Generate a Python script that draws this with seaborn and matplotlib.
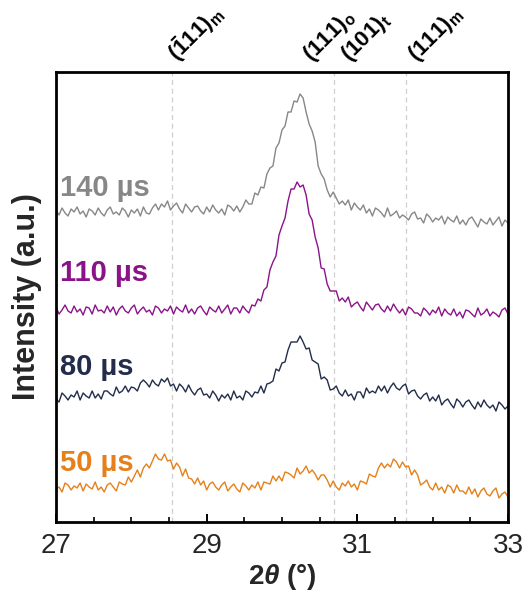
import numpy as np
import pandas as pd
import matplotlib
matplotlib.use("Agg")
import matplotlib.pyplot as plt
from matplotlib.ticker import MultipleLocator
import seaborn as sns

# Scan grid: 27-33 deg, 0.04 deg step
two_theta = np.linspace(27.0, 33.0, 151)

# Raw intensities (a.u.) per pulse width
i_50us = [38, 40, 35, 44, 42, 37, 41, 39, 44, 36, 43, 40, 38, 45, 37, 40, 35, 42, 44, 40,
          36, 45, 43, 42, 50, 45, 51, 57, 50, 59,
          63, 59, 66, 73, 68, 67, 73, 66, 67, 58, 64, 60, 51, 58, 49, 48, 43, 49, 42, 46,
          37, 43, 45, 40, 37, 42, 45, 36, 40, 43,
          38, 35, 44, 41, 37, 42, 39, 45, 37, 45, 44, 43, 51, 46, 51, 46, 55, 54, 52, 49,
          59, 53, 56, 61, 54, 57, 53, 47, 52, 52,
          47, 40, 46, 40, 37, 44, 41, 46, 40, 43, 37, 46, 45, 43, 53, 51, 50, 59, 64, 59,
          63, 60, 68, 65, 59, 65, 60, 61, 52, 57,
          52, 42, 44, 47, 40, 37, 44, 37, 40, 34, 42, 40, 34, 42, 36, 36, 33, 40, 33, 38,
          30, 36, 39, 33, 31, 36, 39, 29, 33, 35, 30]

i_80us = [38, 35, 44, 41, 37, 42, 40, 46, 37, 44, 41, 39, 46, 39, 43, 38, 46, 46, 43, 41,
          50, 44, 46, 51, 45, 50, 49, 46, 54, 57,
          54, 50, 57, 53, 51, 58, 55, 59, 51, 53, 46, 53, 50, 45, 52, 46, 42, 47, 49, 42,
          43, 39, 46, 42, 36, 42, 39, 43, 37, 46,
          39, 41, 37, 46, 44, 40, 45, 44, 51, 44, 53, 54, 56, 68, 66, 74, 75, 87, 95, 95,
          95, 101, 95, 88, 89, 77, 75, 73, 58, 60,
          57, 47, 48, 51, 44, 41, 47, 41, 43, 37, 45, 45, 39, 49, 44, 46, 44, 51, 46, 51,
          44, 50, 54, 49, 47, 51, 53, 43, 46, 47,
          41, 38, 42, 44, 36, 40, 36, 42, 32, 36, 38, 33, 29, 38, 35, 30, 35, 37, 32, 28,
          35, 30, 37, 32, 29, 32, 26, 35, 32, 28, 31]

i_110us = [43, 36, 40, 45, 39, 37, 44, 38, 41, 35, 43, 42, 36, 45, 39, 40, 37, 44, 38, 43,
           35, 41, 44, 39, 37, 42, 45, 36, 40, 43,
           38, 40, 35, 44, 42, 37, 41, 39, 44, 36, 43, 40, 38, 45, 37, 41, 36, 42, 44, 39,
           35, 43, 40, 38, 44, 37, 41, 45, 36, 42,
           42, 37, 44, 40, 37, 45, 44, 51, 49, 60, 63, 80, 88, 94, 115, 124, 132, 149, 161, 161,
           168, 163, 165, 155, 136, 130, 113, 102, 82, 81,
           66, 59, 59, 59, 49, 52, 48, 53, 43, 46, 48, 43, 39, 48, 44, 40, 45, 46, 41, 38,
           44, 39, 46, 41, 37, 41, 35, 43, 41, 37,
           37, 34, 42, 39, 35, 40, 37, 43, 34, 41, 37, 35, 41, 34, 38, 32, 40, 39, 36, 33,
           42, 35, 37, 41, 34, 38, 36, 33, 40, 42, 36]

i_140us = [42, 37, 44, 39, 36, 43, 40, 45, 38, 41, 35, 43, 41, 37, 44, 39, 36, 42, 45, 38,
           40, 37, 44, 41, 35, 42, 39, 43, 36, 45,
           39, 38, 44, 48, 42, 48, 45, 51, 42, 46, 49, 43, 39, 48, 44, 40, 45, 46, 41, 38,
           45, 40, 47, 42, 39, 43, 37, 47, 45, 41,
           46, 40, 45, 52, 48, 48, 59, 57, 65, 64, 78, 84, 86, 104, 109, 122, 126, 140, 140, 151,
           150, 158, 154, 140, 128, 121, 110, 86, 78, 73,
           62, 55, 60, 54, 48, 51, 47, 52, 42, 49, 45, 42, 47, 39, 43, 36, 44, 42, 39, 35,
           44, 36, 38, 41, 34, 37, 35, 32, 38, 40,
           33, 34, 29, 38, 35, 30, 34, 32, 36, 28, 35, 32, 30, 36, 28, 32, 27, 33, 35, 30,
           25, 33, 30, 28, 34, 27, 31, 35, 26, 32, 29]

samples = ["50 µs", "80 µs", "110 µs", "140 µs"]
offsets = [0, 90, 177, 275]
colors = ["#e5801a", "#232d4b", "#8b1389", "#878787"]
label_y = [64, 160, 254, 339]

# Reflection positions (2theta, deg) and their labels
ref_pos = [28.54, 30.69, 31.65]
ref_labels = [r"($\bar{1}$11)$_\mathrm{m}$", r"(111)$_\mathrm{o}$",
              r"(101)$_\mathrm{t}$", r"(111)$_\mathrm{m}$"]
ref_label_x = [28.67, 30.45, 30.95, 31.85]

xticks = [27, 29, 31, 33]

rows = []
for name, vals, off in zip(samples, [i_50us, i_80us, i_110us, i_140us], offsets):
    rows.append(pd.DataFrame({"two_theta": two_theta,
                              "intensity": np.asarray(vals, float) + off,
                              "sample": name}))
df = pd.concat(rows, ignore_index=True)

sns.set_theme(style="white")
plt.rcParams["font.family"] = ["Liberation Sans", "DejaVu Sans"]
plt.rcParams["mathtext.fontset"] = "custom"
plt.rcParams["mathtext.rm"] = "Liberation Sans:bold"
plt.rcParams["mathtext.bf"] = "Liberation Sans:bold"
plt.rcParams["mathtext.it"] = "Liberation Sans:italic:bold"
plt.rcParams["mathtext.default"] = "rm"

fig = plt.figure(figsize=(5.25, 5.93), dpi=100)
ax = fig.add_axes([56 / 525, 1 - 522 / 593, (508 - 56) / 525, (522 - 72) / 593])

for xp in ref_pos:
    ax.axvline(xp, color="#cfcfcf", lw=0.9, ls=(0, (4, 3)), zorder=0)

sns.lineplot(data=df, x="two_theta", y="intensity", hue="sample",
             palette=dict(zip(samples, colors)), hue_order=samples,
             estimator=None, sort=False, linewidth=1.0, legend=False, ax=ax)

for name, col, ly in zip(samples, colors, label_y):
    ax.text(27.05, ly, name, color=col, fontsize=21, fontweight="bold",
            ha="left", va="center")

for lab, lx in zip(ref_labels, ref_label_x):
    ax.text(lx, 1.012, lab, transform=ax.get_xaxis_transform(), rotation=45,
            rotation_mode="anchor", ha="left", va="bottom", fontsize=16,
            fontweight="bold", color="black")

ax.set_xlim(27, 33)
ax.set_ylim(5, 455)
ax.set_yticks([])
ax.set_xticks(xticks)
ax.set_xticklabels([str(t) for t in xticks])
ax.xaxis.set_minor_locator(MultipleLocator(0.5))
ax.tick_params(axis="x", which="major", direction="in", length=6, width=1.4,
               labelsize=20, pad=8, color="black", bottom=True)
ax.tick_params(axis="x", which="minor", direction="in", length=3.5, width=1.2,
               color="black", bottom=True)
for sp in ax.spines.values():
    sp.set_visible(True)
    sp.set_color("black")
    sp.set_linewidth(2.0)

ax.set_xlabel(r"2$\it{\theta}$ (°)", fontsize=20, fontweight="bold", labelpad=2)
ax.set_ylabel("Intensity (a.u.)", fontsize=22, fontweight="bold", labelpad=10)

fig.savefig("out.png", dpi=100)
